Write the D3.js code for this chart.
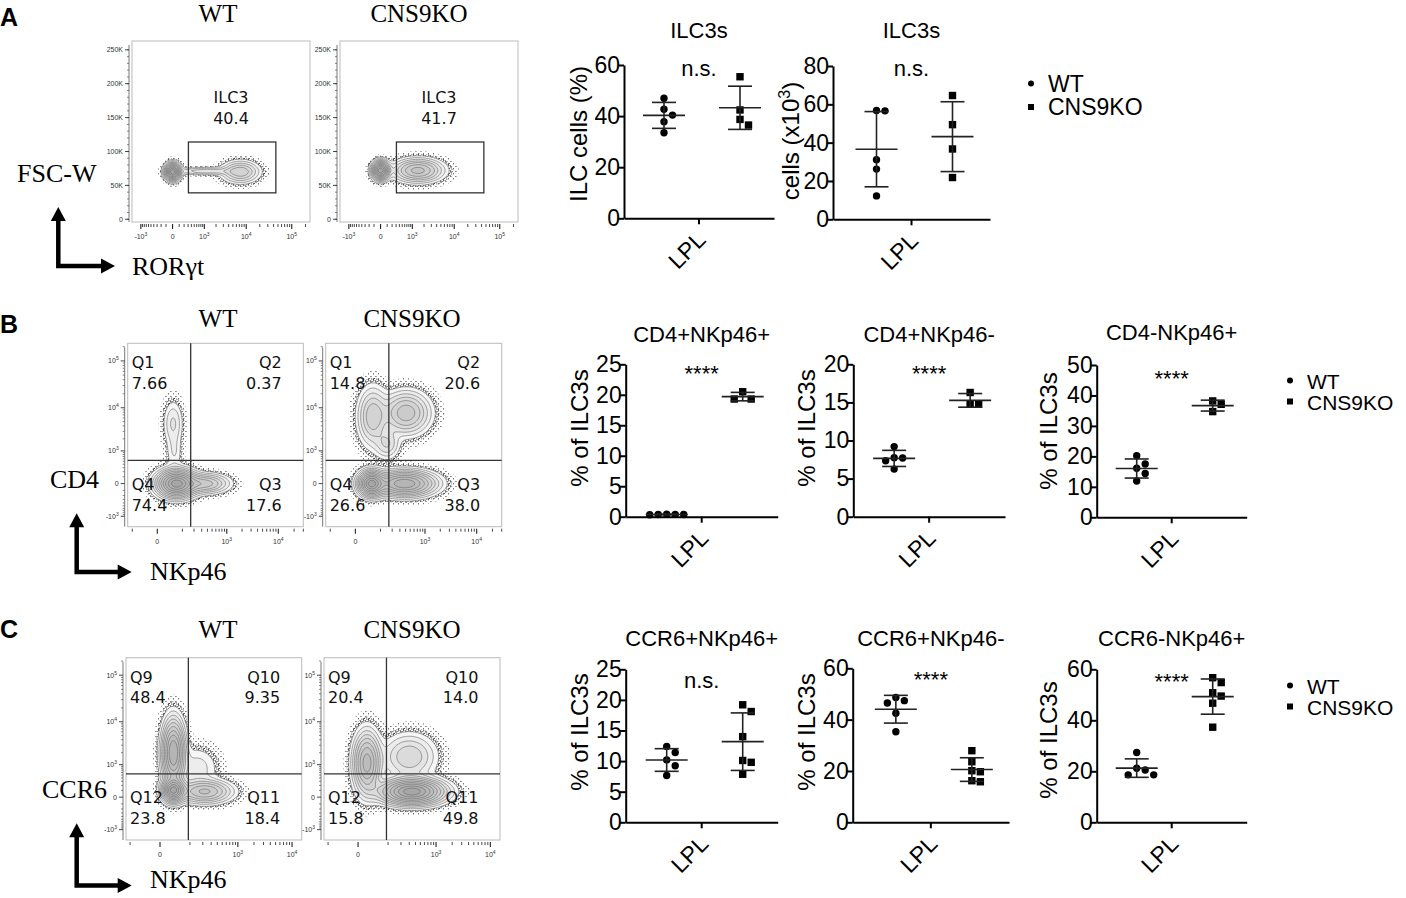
<!DOCTYPE html>
<html lang="en">
<head>
<meta charset="UTF-8">
<title>ILC3 subsets, WT vs CNS9KO</title>
<style>
  body { margin: 0; background: #fff; }
  svg { display: block; }
  .sans { font-family: "Liberation Sans", Arial, sans-serif; }
  .serif { font-family: "Liberation Serif", "Times New Roman", serif; }
  .gatefont { font-family: "DejaVu Sans", sans-serif; }
</style>
</head>
<body>
<script src="https://d3js.org/d3.v7.min.js"></script>
<script>
// ---------------- values ----------------
const groups = ["WT", "CNS9KO"];

// dot plots (one value per mouse)
const a1WT = [47.0, 42.7, 40.4, 37.8, 33.5];
const a1KO = [55.4, 42.4, 38.7, 36.5];
const a2WT = [56.8, 56.6, 31.1, 26.2, 12.2];
const a2KO = [64.6, 49.4, 36.7, 21.8];
const b1WT = [0.42, 0.33, 0.35, 0.38, 0.36];
const b1KO = [20.5, 19.3, 19.3];
const b2WT = [9.2, 7.7, 7.75, 7.35, 6.25];
const b2KO = [16.3, 14.75, 14.75];
const b3WT = [20.2, 17.5, 16.1, 14.4, 11.9];
const b3KO = [38.2, 37.1, 34.7];
const c1WT = [12.4, 11.4, 10.2, 9.25, 7.65];
const c1KO = [19.2, 18.1, 14.0, 10.1, 9.8, 7.85];
const c2WT = [48.6, 47.4, 46.5, 42.5, 35.3];
const c2KO = [27.9, 23.6, 19.7, 20.1, 15.8, 16.2];
const c3WT = [27.4, 20.5, 21.2, 18.6, 18.6];
const c3KO = [56.7, 54.8, 50.8, 49.5, 46.7, 37.3];

const ticks60 = [0, 20, 40, 60];
const ticks80 = [0, 20, 40, 60, 80];
const ticks25 = [0, 5, 10, 15, 20, 25];
const ticks20 = [0, 5, 10, 15, 20];
const ticks50 = [0, 10, 20, 30, 40, 50];

// flow gates: percentages shown on the plots
const gateA = [40.4, 41.7];                 // WT, CNS9KO
const quadNamesB = ["Q1", "Q2", "Q3", "Q4"]; // UL, UR, LR, LL
const quadB_WT = [7.66, 0.37, 17.6, 74.4];
const quadB_KO = [14.8, 20.6, 38.0, 26.6];
const quadNamesC = ["Q9", "Q10", "Q11", "Q12"];
const quadC_WT = [48.4, 9.35, 18.4, 23.8];
const quadC_KO = [20.4, 14.0, 49.8, 15.8];

// flow populations: centre in channel values, spread in display units, weight
const popsA_WT = [
  {x: 0, y: 70000, sx: 0.2, sy: 6500, w: 0.5},
  {x: 1100, y: 71000, sx: 0.85, sy: 3000, w: 0.1},
  {x: 7400, y: 70000, sx: 0.5, sy: 8500, w: 0.35}
];
const popsA_KO = [
  {x: 0, y: 72000, sx: 0.22, sy: 7000, w: 0.4},
  {x: 1400, y: 72000, sx: 0.65, sy: 9000, w: 0.55}
];
const popsB_WT = [
  {x: 65, y: 0, sx: 0.45, sy: 0.35, w: 0.6},
  {x: 350, y: 0, sx: 0.55, sy: 0.25, w: 0.15},
  {x: 50, y: 4500, sx: 0.24, sy: 0.62, w: 0.045},
  {x: 55, y: 900, sx: 0.2, sy: 0.5, w: 0.015}
];
const popsB_KO = [
  {x: 50, y: 0, sx: 0.3, sy: 0.32, w: 0.2},
  {x: 380, y: 0, sx: 0.7, sy: 0.32, w: 0.35},
  {x: 57, y: 6400, sx: 0.35, sy: 0.75, w: 0.13},
  {x: 410, y: 7700, sx: 0.55, sy: 0.55, w: 0.2},
  {x: 150, y: 1500, sx: 0.3, sy: 0.4, w: 0.03}
];
const popsC_WT = [
  {x: 30, y: 2000, sx: 0.25, sy: 0.85, w: 0.45},
  {x: 30, y: 100, sx: 0.25, sy: 0.3, w: 0.2},
  {x: 220, y: 80, sx: 0.6, sy: 0.3, w: 0.18},
  {x: 150, y: 800, sx: 0.5, sy: 0.6, w: 0.05}
];
const popsC_KO = [
  {x: 18, y: 1100, sx: 0.3, sy: 0.8, w: 0.25},
  {x: 340, y: 80, sx: 0.7, sy: 0.33, w: 0.48},
  {x: 300, y: 1600, sx: 0.6, sy: 0.6, w: 0.12}
];

// ---------------- page ----------------
const W = 1406, H = 898;
const svg = d3.select("body").append("svg").attr("width", W).attr("height", H);
svg.append("rect").attr("width", W).attr("height", H).attr("fill", "#fff");
const defs = svg.append("defs");

// outlier speckle patterns
function speckle(id, pts) {
  const p = defs.append("pattern").attr("id", id)
    .attr("width", 5).attr("height", 5).attr("patternUnits", "userSpaceOnUse");
  pts.forEach(d => p.append("rect").attr("x", d[0]).attr("y", d[1])
    .attr("width", 0.9).attr("height", 0.9).attr("fill", "#000"));
}
speckle("spSparse", [[0.5, 1], [3, 3.4]]);
speckle("spDense", [[0.2, 0.4], [2.4, 1.2], [4, 2.9], [1.3, 3.6], [3.4, 0.1], [0.6, 2.2], [2.8, 4.2]]);

function T(v, c) { return Math.sign(v) * Math.log1p(Math.abs(v) / c); }
function pxPerUnit(scale) {
  const [d0, d1] = scale.domain(), [r0, r1] = scale.range();
  if (scale.constant) {
    const c = scale.constant();
    return Math.abs(r1 - r0) / (T(d1, c) - T(d0, c));
  }
  return Math.abs(r1 - r0) / (d1 - d0);
}

function logTicks(scale) {
  const [d0, d1] = scale.domain();
  const major = [0], minor = [];
  [-1, 1].forEach(s => {
    for (let e = 2; e <= 5; e++) for (let m = 1; m <= 9; m++) {
      const v = s * m * Math.pow(10, e);
      if (v < d0 || v > d1) continue;
      (m === 1 && e >= 3 ? major : minor).push(v);
    }
  });
  return {major, minor};
}

function supLabel(sel, v) {
  if (v === 0) { sel.text("0"); return; }
  const e = Math.round(Math.log10(Math.abs(v)));
  sel.text(v < 0 ? "-10" : "10");
  sel.append("tspan").attr("dy", -3).attr("font-size", 5).text(e);
}

function fmtPct(v) { return v < 1 ? v.toFixed(2) : v.toPrecision(3); }

// ---------------- flow panels ----------------
function flowPanel(p) {
  const [x0, y0, x1, y1] = p.box;
  const g = svg.append("g");
  const clipId = "clip-" + p.id;
  defs.append("clipPath").attr("id", clipId).append("rect")
    .attr("x", x0).attr("y", y0).attr("width", x1 - x0).attr("height", y1 - y0);

  // density grid from the populations
  const ux = pxPerUnit(p.x), uy = pxPerUnit(p.y);
  const step = 1.5;
  const nx = Math.ceil((x1 - x0) / step), ny = Math.ceil((y1 - y0) / step);
  const pops = p.pops.map(d => ({cx: p.x(d.x), cy: p.y(d.y), sx: d.sx * ux, sy: d.sy * uy, w: d.w}));
  const grid = new Float64Array(nx * ny);
  for (let j = 0; j < ny; j++) {
    const py = y0 + (j + 0.5) * step;
    for (let i = 0; i < nx; i++) {
      const px = x0 + (i + 0.5) * step;
      let s = 0;
      for (const q of pops) {
        const dx = (px - q.cx) / q.sx, dy = (py - q.cy) / q.sy;
        s += q.w / (q.sx * q.sy) * Math.exp(-0.5 * (dx * dx + dy * dy));
      }
      grid[j * nx + i] = s;
    }
  }
  const max = d3.max(grid);
  const contours = d3.contours().size([nx, ny]);
  const path = d3.geoPath(d3.geoIdentity().scale(step).translate([x0, y0]));
  const cg = g.append("g").attr("clip-path", `url(#${clipId})`);

  cg.append("path").datum(contours.thresholds([0.0025 * max])(grid)[0])
    .attr("d", path).attr("fill", "url(#spSparse)");
  cg.append("path").datum(contours.thresholds([0.009 * max])(grid)[0])
    .attr("d", path).attr("fill", "url(#spDense)");

  const levels = [0.02, 0.04, 0.07, 0.11, 0.16, 0.23, 0.32, 0.43, 0.56, 0.72, 0.88].map(f => f * max);
  const cs = contours.thresholds(levels)(grid);
  cg.append("path").datum(cs[0]).attr("d", path).attr("fill", "#fff");
  cg.selectAll("path.lv").data(cs).join("path").attr("class", "lv")
    .attr("d", path)
    .attr("fill", "#000").attr("fill-opacity", 0.035)
    .attr("stroke", "#666").attr("stroke-width", 0.6);

  // frame
  g.append("rect").attr("x", x0).attr("y", y0).attr("width", x1 - x0).attr("height", y1 - y0)
    .attr("fill", "none").attr("stroke", "#bbb").attr("stroke-width", 1);

  // axes
  const ax = g.append("g").attr("class", "sans").attr("font-size", 7).attr("fill", "#333");
  ax.append("line").attr("x1", x0 - 3).attr("x2", x0 - 3).attr("y1", y0 + 4).attr("y2", y1)
    .attr("stroke", "#555").attr("stroke-width", 0.8);
  let ym, ymin;
  if (p.y.constant) { const t = logTicks(p.y); ym = t.major; ymin = t.minor; }
  else { ym = d3.range(0, 250001, 50000); ymin = d3.range(0, 250001, 10000); }
  ax.selectAll("line.ymin").data(ymin).join("line").attr("class", "ymin")
    .attr("x1", x0 - 5).attr("x2", x0 - 3).attr("y1", d => p.y(d)).attr("y2", d => p.y(d))
    .attr("stroke", "#555").attr("stroke-width", 0.7);
  ax.selectAll("line.ymaj").data(ym).join("line").attr("class", "ymaj")
    .attr("x1", x0 - 7).attr("x2", x0 - 3).attr("y1", d => p.y(d)).attr("y2", d => p.y(d))
    .attr("stroke", "#333").attr("stroke-width", 0.9);
  ax.selectAll("text.yl").data(ym).join("text").attr("class", "yl")
    .attr("x", x0 - 9).attr("y", d => p.y(d) + 2.5).attr("text-anchor", "end")
    .each(function(d) {
      if (p.y.constant) supLabel(d3.select(this), d);
      else d3.select(this).text(d === 0 ? "0" : (d / 1000) + "K");
    });

  const xt = logTicks(p.x);
  ax.selectAll("line.xmin").data(xt.minor).join("line").attr("class", "xmin")
    .attr("x1", d => p.x(d)).attr("x2", d => p.x(d)).attr("y1", y1 + 2).attr("y2", y1 + 5)
    .attr("stroke", "#333").attr("stroke-width", 0.9);
  ax.selectAll("line.xmaj").data(xt.major).join("line").attr("class", "xmaj")
    .attr("x1", d => p.x(d)).attr("x2", d => p.x(d)).attr("y1", y1 + 2).attr("y2", y1 + 7)
    .attr("stroke", "#222").attr("stroke-width", 1.1);
  ax.selectAll("text.xl").data(xt.major).join("text").attr("class", "xl")
    .attr("x", d => p.x(d)).attr("y", y1 + 17).attr("text-anchor", "middle")
    .each(function(d) { supLabel(d3.select(this), d); });

  // gates
  const lab = g.append("g").attr("class", "gatefont").attr("font-size", 16).attr("fill", "#111");
  if (p.gate) {
    const [gx0, gx1, gy0, gy1] = p.gate;
    g.append("rect").attr("x", p.x(gx0)).attr("y", p.y(gy1))
      .attr("width", p.x(gx1) - p.x(gx0)).attr("height", p.y(gy0) - p.y(gy1))
      .attr("fill", "none").attr("stroke", "#333").attr("stroke-width", 1.3);
    lab.append("text").attr("x", x0 + 99).attr("y", y0 + 62).attr("text-anchor", "middle").text("ILC3");
    lab.append("text").attr("x", x0 + 99).attr("y", y0 + 83).attr("text-anchor", "middle").text(fmtPct(p.pct));
  }
  if (p.quad) {
    const qx = p.x(p.quad[0]), qy = p.y(p.quad[1]);
    g.append("line").attr("x1", qx).attr("x2", qx).attr("y1", y0).attr("y2", y1)
      .attr("stroke", "#333").attr("stroke-width", 1.3);
    g.append("line").attr("x1", x0).attr("x2", x1).attr("y1", qy).attr("y2", qy)
      .attr("stroke", "#333").attr("stroke-width", 1.3);
    const spots = [
      {x: x0 + 4, y: y0 + 25, a: "start"},
      {x: x1 - 21.6, y: y0 + 25, a: "end"},
      {x: x1 - 21.6, y: y1 - 36.7, a: "end"},
      {x: x0 + 4, y: y1 - 36.7, a: "start"}
    ];
    spots.forEach((s, k) => {
      lab.append("text").attr("x", s.x).attr("y", s.y).attr("text-anchor", s.a).text(p.names[k]);
      lab.append("text").attr("x", s.x).attr("y", s.y + 20.7).attr("text-anchor", s.a).text(fmtPct(p.quadPct[k]));
    });
  }
}

function symX(c, dom, x0, x1) { return d3.scaleSymlog().constant(c).domain(dom).range([x0, x1]); }
function symY(c, dom, y0, y1) { return d3.scaleSymlog().constant(c).domain(dom).range([y1, y0]); }

const boxA = [[132, 41, 310, 222], [340, 41, 518, 222]];
const boxB = [[127.7, 343.3, 303.3, 526.7], [325.7, 343.3, 501.7, 526.7]];
const boxC = [[126, 657.7, 301.7, 840], [324, 657.7, 500, 840]];

[popsA_WT, popsA_KO].forEach((pops, k) => {
  const b = boxA[k];
  flowPanel({
    id: "A" + k, box: b, pops,
    x: symX(256, [-1700, 250000], b[0], b[2]),
    y: d3.scaleLinear().domain([-4000, 263000]).range([b[3], b[1]]),
    gate: [310, 45000, 39000, 114000], pct: gateA[k]
  });
});
[[popsB_WT, quadB_WT], [popsB_KO, quadB_KO]].forEach(([pops, q], k) => {
  const b = boxB[k];
  flowPanel({
    id: "B" + k, box: b, pops,
    x: symX(50, [-133, 30000], b[0], b[2]),
    y: symY(256, [-1830, 236000], b[1], b[3]),
    quad: [166, 540], names: quadNamesB, quadPct: q
  });
});
[[popsC_WT, quadC_WT], [popsC_KO, quadC_KO]].forEach(([pops, q], k) => {
  const b = boxC[k];
  flowPanel({
    id: "C" + k, box: b, pops,
    x: symX(40, [-126, 15000], b[0], b[2]),
    y: symY(256, [-1830, 236000], b[1], b[3]),
    quad: [91, 543], names: quadNamesC, quadPct: q
  });
});

// row headers, axis names and arrows
const txt = svg.append("g");
[
  {t: "A", y: 26}, {t: "B", y: 333}, {t: "C", y: 638}
].forEach(d => txt.append("text").attr("class", "sans").attr("x", 0).attr("y", d.y)
  .attr("font-size", 25).attr("font-weight", "bold").text(d.t));

[[22, 419], [327.3, 412], [638.3, 412]].forEach(([y, kx]) => {
  txt.append("text").attr("class", "serif").attr("x", 218).attr("y", y)
    .attr("text-anchor", "middle").attr("font-size", 25).text("WT");
  txt.append("text").attr("class", "serif").attr("x", kx).attr("y", y)
    .attr("text-anchor", "middle").attr("font-size", 25).text("CNS9KO");
});

[
  {yName: "FSC-W", yx: 17, yy: 182, xName: "RORγt", xx: 132, xy: 275, ax: 58.3, top: 207, corner: 266, tip: 115},
  {yName: "CD4", yx: 50, yy: 488.3, xName: "NKp46", xx: 150, xy: 580, ax: 76.7, top: 513.3, corner: 572, tip: 131.7},
  {yName: "CCR6", yx: 42, yy: 798.3, xName: "NKp46", xx: 150, xy: 888.3, ax: 76.7, top: 823.3, corner: 885.5, tip: 131.7}
].forEach(d => {
  txt.append("text").attr("class", "serif").attr("x", d.yx).attr("y", d.yy).attr("font-size", 26).text(d.yName);
  txt.append("text").attr("class", "serif").attr("x", d.xx).attr("y", d.xy).attr("font-size", 26).text(d.xName);
  txt.append("path")
    .attr("d", `M${d.ax},${d.top + 12}V${d.corner}H${d.tip - 12}`)
    .attr("fill", "none").attr("stroke", "#000").attr("stroke-width", 4.5);
  txt.append("path").attr("d", `M${d.ax},${d.top}l-7.5,14h15z`).attr("fill", "#000");
  txt.append("path").attr("d", `M${d.tip},${d.corner}l-14,-7.5v15z`).attr("fill", "#000");
});

// ---------------- dot plots ----------------
function swarm(vals, y, cx, s) {
  const order = vals.map((v, i) => i).sort((a, b) => vals[b] - vals[a]);
  const placed = [];
  const out = new Array(vals.length);
  order.forEach(i => {
    const py = y(vals[i]);
    let k = 0, off = 0;
    while (true) {
      off = k === 0 ? 0 : (k % 2 ? 1 : -1) * Math.ceil(k / 2) * s;
      if (placed.every(q => Math.hypot(q.x - (cx + off), q.y - py) >= s)) break;
      k++;
    }
    out[i] = {x: cx + off, y: py};
    placed.push(out[i]);
  });
  return out;
}

function dotPlot(p) {
  const y = d3.scaleLinear().domain([0, p.ticks[p.ticks.length - 1]]).range([p.bottom, p.top]);
  const x = d3.scaleBand().domain(["LPL"]).range([p.left, p.right]);
  const mid = x("LPL") + x.bandwidth() / 2;
  const gx = d3.scalePoint().domain(groups).range([mid - 35, mid + 41]);
  const g = svg.append("g").attr("class", "sans");

  const ya = g.append("g").attr("transform", `translate(${p.left},0)`)
    .call(d3.axisLeft(y).tickValues(p.ticks).tickSize(6).tickSizeOuter(0).tickPadding(-2));
  const xa = g.append("g").attr("transform", `translate(0,${p.bottom})`)
    .call(d3.axisBottom(x).tickSize(6).tickSizeOuter(0).tickFormat(""));
  [ya, xa].forEach(a => {
    a.attr("font-family", null).attr("font-size", null);
    a.selectAll("path,line").attr("stroke", "#000").attr("stroke-width", 2);
  });
  ya.selectAll("text").attr("font-size", 23).attr("fill", "#000");

  g.append("text").attr("x", mid + 8).attr("y", p.bottom + 23)
    .attr("transform", `rotate(-45,${mid + 8},${p.bottom + 23})`)
    .attr("text-anchor", "end").attr("font-size", 23).text("LPL");

  g.append("text").attr("x", mid).attr("y", p.titleY).attr("text-anchor", "middle")
    .attr("font-size", 22).text(p.title);
  g.append("text").attr("x", mid).attr("y", p.sigY).attr("text-anchor", "middle")
    .attr("font-size", 22).text(p.sig);

  const yl = g.append("text").attr("transform", `translate(${p.labX},${p.labY}) rotate(-90)`)
    .attr("text-anchor", "middle").attr("font-size", 24).text(p.ylab);
  if (p.sup) {
    yl.append("tspan").attr("dy", -9).attr("font-size", 16).text(p.sup);
    yl.append("tspan").attr("dy", 9).text(")");
  }

  [[p.wt, "WT"], [p.ko, "CNS9KO"]].forEach(([vals, grp]) => {
    const cx = gx(grp);
    const m = d3.mean(vals), sd = d3.deviation(vals);
    const pts = swarm(vals, y, cx, 8.5);
    if (grp === "WT") {
      g.selectAll(null).data(pts).join("circle")
        .attr("cx", d => d.x).attr("cy", d => d.y).attr("r", 3.7).attr("fill", "#000");
    } else {
      g.selectAll(null).data(pts).join("rect")
        .attr("x", d => d.x - 3.7).attr("y", d => d.y - 3.7)
        .attr("width", 7.4).attr("height", 7.4).attr("fill", "#000");
    }
    const seg = (a, b, c, d) => g.append("line")
      .attr("x1", a).attr("y1", b).attr("x2", c).attr("y2", d)
      .attr("stroke", "#222").attr("stroke-width", 1.6);
    seg(cx - 21, y(m), cx + 21, y(m));
    seg(cx, y(m + sd), cx, y(Math.max(0, m - sd)));
    seg(cx - 12, y(m + sd), cx + 12, y(m + sd));
    seg(cx - 12, y(Math.max(0, m - sd)), cx + 12, y(Math.max(0, m - sd)));
  });
}

const plots = [
  {title: "ILC3s", ylab: "ILC cells (%)", wt: a1WT, ko: a1KO, ticks: ticks60, left: 624, right: 774, top: 65, bottom: 218.3, titleY: 38, sig: "n.s.", sigY: 76, labX: 587, labY: 134},
  {title: "ILC3s", ylab: "cells (x10", sup: "3", wt: a2WT, ko: a2KO, ticks: ticks80, left: 833, right: 990, top: 66, bottom: 219.3, titleY: 38, sig: "n.s.", sigY: 76, labX: 799, labY: 141},
  {title: "CD4+NKp46+", ylab: "% of ILC3s", wt: b1WT, ko: b1KO, ticks: ticks25, left: 625.7, right: 777.7, top: 364.3, bottom: 516.7, titleY: 341.7, sig: "****", sigY: 381, labX: 588, labY: 428},
  {title: "CD4+NKp46-", ylab: "% of ILC3s", wt: b2WT, ko: b2KO, ticks: ticks20, left: 853.3, right: 1005, top: 364.3, bottom: 516.7, titleY: 341.7, sig: "****", sigY: 381, labX: 815, labY: 428},
  {title: "CD4-NKp46+", ylab: "% of ILC3s", wt: b3WT, ko: b3KO, ticks: ticks50, left: 1096.7, right: 1246.7, top: 365, bottom: 517.3, titleY: 340, sig: "****", sigY: 386, labX: 1057, labY: 431},
  {title: "CCR6+NKp46+", ylab: "% of ILC3s", wt: c1WT, ko: c1KO, ticks: ticks25, left: 625.7, right: 777.7, top: 669.3, bottom: 822.3, titleY: 645.7, sig: "n.s.", sigY: 688.3, labX: 588, labY: 732},
  {title: "CCR6+NKp46-", ylab: "% of ILC3s", wt: c2WT, ko: c2KO, ticks: ticks60, left: 852.7, right: 1009, top: 668.3, bottom: 822.3, titleY: 645.7, sig: "****", sigY: 687, labX: 815, labY: 732},
  {title: "CCR6-NKp46+", ylab: "% of ILC3s", wt: c3WT, ko: c3KO, ticks: ticks60, left: 1096.7, right: 1246.7, top: 669.3, bottom: 822.3, titleY: 645.7, sig: "****", sigY: 689, labX: 1057, labY: 740}
];
plots.forEach(dotPlot);

// legends
[
  {x: 1031, y: 91.5, gap: 23.5, fs: 23},
  {x: 1290, y: 388.5, gap: 21, fs: 21},
  {x: 1290, y: 693.5, gap: 21, fs: 21}
].forEach(l => {
  const g = svg.append("g").attr("class", "sans");
  groups.forEach((grp, i) => {
    const by = l.y + i * l.gap;
    if (i === 0) g.append("circle").attr("cx", l.x).attr("cy", by - 8).attr("r", 3).attr("fill", "#000");
    else g.append("rect").attr("x", l.x - 3).attr("y", by - 11).attr("width", 6).attr("height", 6).attr("fill", "#000");
    g.append("text").attr("x", l.x + 17).attr("y", by).attr("font-size", l.fs).text(grp);
  });
});
</script>
</body>
</html>
